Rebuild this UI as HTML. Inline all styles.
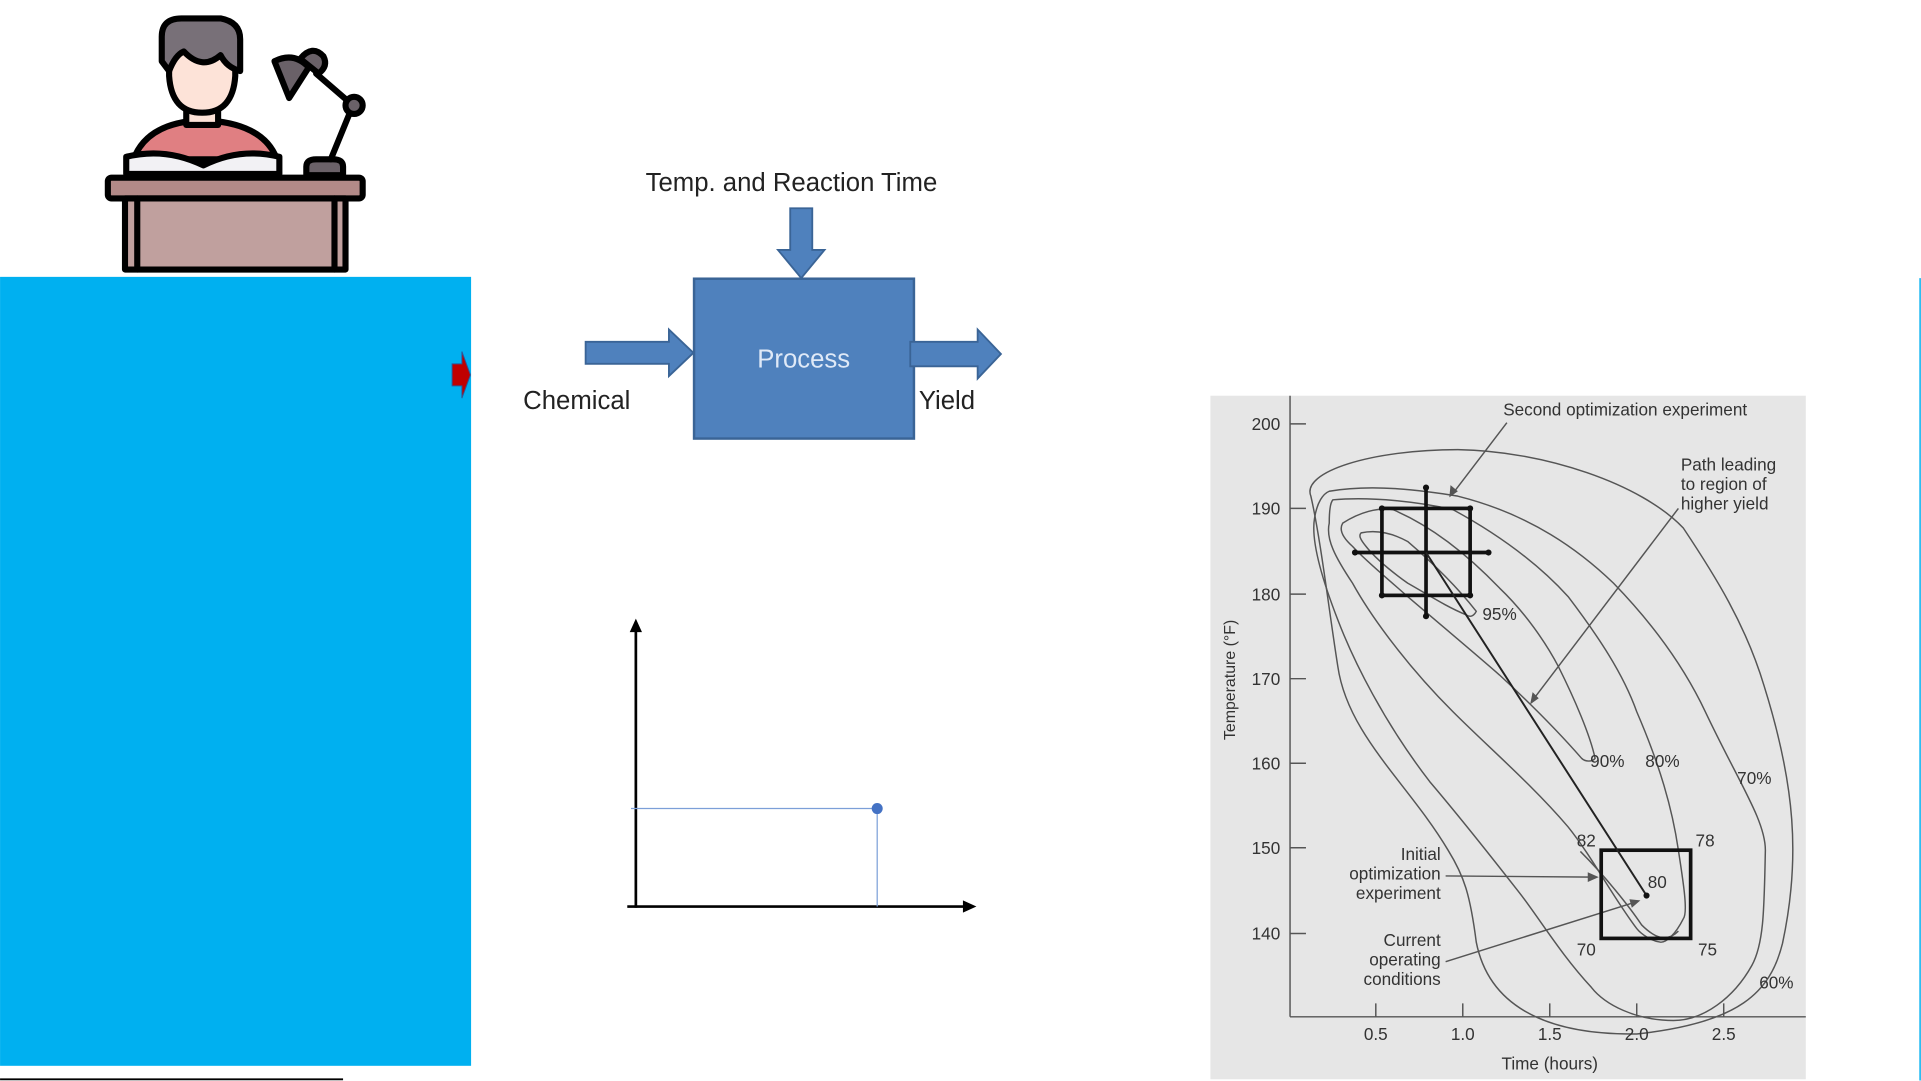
<!DOCTYPE html>
<html><head><meta charset="utf-8"><style>
html,body{margin:0;padding:0;background:#fff;width:1921px;height:1081px;overflow:hidden}
svg{display:block}
</style></head><body>
<svg width="1921" height="1081" viewBox="0 0 1568 882.4" xmlns="http://www.w3.org/2000/svg">
<!-- blue panel -->
<rect x="0" y="226" width="384.5" height="644" fill="#00b0f0"/>
<line x1="0" y1="881" x2="280" y2="881" stroke="#000" stroke-width="1.5"/>
<path d="M369,297 L377,297 L377,287 L384,306 L377,325 L377,315 L369,315 Z" fill="#c00000" stroke="#2f5597" stroke-width="0.8"/>
<line x1="1567.3" y1="227" x2="1567.3" y2="882" stroke="#00b0f0" stroke-width="1.2"/>

<!-- person icon -->
<g stroke="#000" stroke-width="5" stroke-linejoin="round" stroke-linecap="round">
  <path d="M109,130 Q120,100 165,98 Q215,100 226,130 Z" fill="#e07f82"/>
  <rect x="152" y="82" width="26" height="20" fill="#fde3d8"/>
  <path d="M138,40 L138,62 Q140,92 165,92 Q190,92 192,62 L192,40 Z" fill="#fde3d8"/>
  <path d="M132,50 L132,30 Q132,15 148,15 L180,15 Q196,18 196,32 L196,58 Q185,55 180,45 Q165,58 150,42 Q143,45 138,58 Z" fill="#787078"/>
  <path d="M103,142 L103,128 Q135,120 166,135 Q196,120 228,128 L228,142 Z" fill="#f2f1f4"/>
  <rect x="88" y="145" width="208" height="17" rx="3" fill="#b38a88"/>
  <rect x="102" y="162" width="180" height="58" fill="#c0a09e"/>
  <line x1="112" y1="162" x2="112" y2="220"/><line x1="273" y1="162" x2="273" y2="220"/>
  <path d="M250,143 L250,136 Q250,130 258,130 L272,130 Q280,130 280,136 L280,143 Z" fill="#6a6168"/>
  <line x1="270" y1="130" x2="288" y2="86"/>
  <line x1="288" y1="86" x2="258" y2="60"/>
  <circle cx="289" cy="86" r="7" fill="#6a6168"/>
  <path d="M224,50 Q240,42 252,55 L236,80 Z" fill="#6a6168"/>
  <path d="M245,48 Q255,36 264,46 Q268,54 260,60 Z" fill="#6a6168"/>
</g>

<!-- process diagram -->
<g font-family="Liberation Sans, sans-serif" fill="#222">
<text x="646" y="156" font-size="21" text-anchor="middle">Temp. and Reaction Time</text>
<text x="427" y="334" font-size="21">Chemical</text>
<text x="750" y="334" font-size="21">Yield</text>
</g>
<rect x="566.5" y="227.5" width="179.5" height="130.5" fill="#4f81bd" stroke="#3a6496" stroke-width="2"/>
<text x="656" y="300" font-family="Liberation Sans, sans-serif" font-size="21" fill="#dfe9f7" text-anchor="middle">Process</text>
<path d="M645,170 L663,170 L663,204 L673,204 L654,227 L635,204 L645,204 Z" fill="#4f81bd" stroke="#3a6496" stroke-width="1.5"/>
<path d="M478,279 L546,279 L546,269 L566,288 L546,307 L546,297 L478,297 Z" fill="#4f81bd" stroke="#3a6496" stroke-width="1.5"/>
<path d="M743,279 L798,279 L798,269 L817,289 L798,309 L798,299 L743,299 Z" fill="#4f81bd" stroke="#3a6496" stroke-width="1.5"/>

<!-- simple axes -->
<line x1="519" y1="514" x2="519" y2="741" stroke="#000" stroke-width="2.2"/>
<path d="M514,516 L519,505 L524,516 Z" fill="#000"/>
<line x1="512" y1="740" x2="788" y2="740" stroke="#000" stroke-width="2.2"/>
<path d="M786,735 L797,740 L786,745 Z" fill="#000"/>
<line x1="515" y1="660" x2="716" y2="660" stroke="#7c9fd8" stroke-width="1"/>
<line x1="716" y1="660" x2="716" y2="740" stroke="#7c9fd8" stroke-width="1"/>
<circle cx="716" cy="660" r="4.5" fill="#4472c4"/>

<!-- contour chart -->
<rect x="988" y="323" width="486" height="558" fill="#e6e6e6"/>
<g stroke="#555" stroke-width="1.2" fill="none">
<line x1="1053" y1="323" x2="1053" y2="830"/><line x1="1053" y1="830" x2="1474" y2="830"/>
<path d="M1053,346h13M1053,415h13M1053,485h13M1053,554h13M1053,623h13M1053,692h13M1053,762h13"/>
<path d="M1123,830v-11M1194,830v-11M1265,830v-11M1336,830v-11M1407,830v-11"/>
<!-- 60 -->
<path d="M1070,405 C1062,385 1120,367 1190,367 C1260,368 1340,395 1374,431 C1400,470 1425,510 1440,560 C1465,640 1470,700 1455,770 C1445,810 1420,835 1336,844 C1260,845 1215,820 1205,769 C1200,730 1195,715 1182,694 C1150,640 1100,600 1092,544 C1085,500 1078,440 1070,405 Z"/>
<!-- 70 -->
<path d="M1085,401 C1120,395 1160,400 1190,405 C1250,420 1290,450 1317,476 C1350,510 1375,545 1392,581 C1420,640 1441,670 1441,694 C1440,740 1440,770 1430,788 C1415,815 1390,833 1366,833 C1335,833 1310,820 1299,806 C1275,780 1260,755 1242,731 C1210,690 1190,665 1167,638 C1130,590 1105,540 1092,506 C1078,470 1070,440 1073,423 C1075,410 1080,403 1085,401 Z"/>
<!-- 80 -->
<path d="M1088,408 C1120,405 1160,410 1186,416 C1230,440 1260,465 1280,487 C1305,520 1325,550 1336,581 C1355,625 1365,660 1370,694 C1374,720 1378,745 1374,750 C1368,762 1360,770 1355,769 C1348,768 1340,763 1336,758 C1315,730 1300,700 1280,675 C1250,640 1215,610 1186,581 C1150,545 1120,505 1104,476 C1090,455 1082,440 1085,427 C1085,415 1086,410 1088,408 Z"/>
<!-- 90 -->
<path d="M1096,427 C1110,418 1125,414 1137,416 C1170,430 1200,455 1224,480 C1245,500 1262,525 1272,544 C1285,570 1298,600 1302,619 C1300,622 1294,622 1291,619 C1270,595 1250,575 1224,551 C1200,530 1170,505 1149,487 C1130,470 1115,458 1104,446 C1095,438 1093,432 1096,427 Z"/>
<!-- 95 -->
<path d="M1111,435 C1125,432 1138,436 1149,442 C1170,460 1190,480 1205,499 C1203,503 1200,504 1197,502 C1180,495 1165,485 1149,476 C1135,466 1122,455 1115,446 C1110,440 1109,437 1111,435 Z"/>
<!-- small 82 loop bottom -->
<path d="M1290,695 C1310,715 1330,740 1340,755 C1350,765 1360,770 1370,760"/>
<!-- annotation arrows -->
<line x1="1230" y1="345" x2="1185" y2="404"/>
<line x1="1370" y1="415" x2="1250" y2="573"/>
<line x1="1180" y1="715" x2="1302" y2="716"/>
<line x1="1180" y1="785" x2="1336" y2="736"/>
</g>
<g fill="#555">
<path d="M1183,406 L1184,396 L1190,401 Z"/>
<path d="M1249,575 L1251,565 L1256,570 Z"/>
<path d="M1305,716 L1296,712 L1296,720 Z"/>
<path d="M1339,735 L1330,734 L1332,741 Z"/>
</g>
<g stroke="#111" stroke-width="3" fill="none">
<rect x="1128" y="415" width="72" height="71"/>
<line x1="1164" y1="398" x2="1164" y2="503"/>
<line x1="1106" y1="451" x2="1215" y2="451"/>
<rect x="1307" y="694" width="73" height="72"/>
</g>
<line x1="1164" y1="451" x2="1344" y2="731" stroke="#222" stroke-width="1.6"/>
<g fill="#111">
<circle cx="1128" cy="415" r="2.5"/><circle cx="1200" cy="415" r="2.5"/><circle cx="1128" cy="486" r="2.5"/><circle cx="1200" cy="486" r="2.5"/>
<circle cx="1164" cy="398" r="2.5"/><circle cx="1164" cy="503" r="2.5"/><circle cx="1106" cy="451" r="2.5"/><circle cx="1215" cy="451" r="2.5"/>
<circle cx="1344" cy="731" r="2.5"/>
</g>
<g font-family="Liberation Sans, sans-serif" fill="#333" font-size="14">
<g text-anchor="end">
<text x="1045" y="351">200</text><text x="1045" y="420">190</text><text x="1045" y="490">180</text><text x="1045" y="559">170</text><text x="1045" y="628">160</text><text x="1045" y="697">150</text><text x="1045" y="767">140</text>
<text x="1176" y="702">Initial</text><text x="1176" y="718">optimization</text><text x="1176" y="734">experiment</text>
<text x="1176" y="772">Current</text><text x="1176" y="788">operating</text><text x="1176" y="804">conditions</text>
</g>
<g text-anchor="middle">
<text x="1123" y="849">0.5</text><text x="1194" y="849">1.0</text><text x="1265" y="849">1.5</text><text x="1336" y="849">2.0</text><text x="1407" y="849">2.5</text>
<text x="1265" y="873">Time (hours)</text>
</g>
<text x="1008" y="555" text-anchor="middle" transform="rotate(-90 1008 555)" font-size="13">Temperature (°F)</text>
<text x="1227" y="339">Second optimization experiment</text>
<text x="1372" y="384">Path leading</text><text x="1372" y="400">to region of</text><text x="1372" y="416">higher yield</text>
<text x="1210" y="506">95%</text><text x="1298" y="626">90%</text><text x="1343" y="626">80%</text><text x="1418" y="640">70%</text><text x="1436" y="807">60%</text>
<text x="1287" y="691">82</text><text x="1384" y="691">78</text><text x="1345" y="725">80</text><text x="1287" y="780">70</text><text x="1386" y="780">75</text>
</g>
</svg>
</body></html>
